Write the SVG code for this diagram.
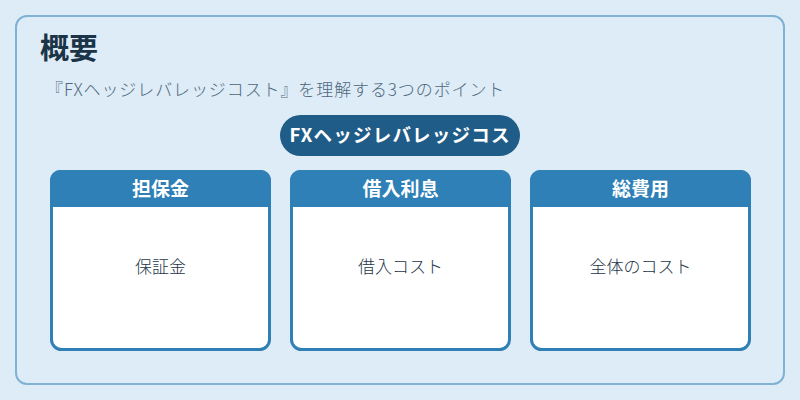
<svg xmlns="http://www.w3.org/2000/svg" width="800" height="400" viewBox="0 0 800 400">
<style>
text{font-family:"Noto Sans CJK JP","Noto Sans",sans-serif}
.card{fill:#ffffff;stroke:#2e80b6;stroke-width:3}
.hdr{fill:#2e80b6}
.htxt{fill:#ffffff;font-size:19px;font-weight:bold;text-anchor:middle}
.btxt{fill:#1b3447;font-size:17px;font-weight:300;text-anchor:middle}
</style>
<rect x="0" y="0" width="800" height="400" fill="#ddecf7"/>
<rect x="16" y="16" width="768" height="368" rx="11" fill="#ddecf7" stroke="#7fb2d4" stroke-width="2"/>
<text x="40" y="59" font-size="29" font-weight="bold" fill="#1b3447">概要</text>
<text x="46" y="96" font-size="17" font-weight="300" fill="#4f687c" letter-spacing="0.9">『FXヘッジレバレッジコスト』を理解する3つのポイント</text>
<g id="pill">
<rect x="280" y="115" width="240" height="41" rx="20.5" fill="#1f5c87"/>
<text x="400" y="142" font-size="18.5" font-weight="bold" fill="#ffffff" text-anchor="middle" letter-spacing="1.2">FXヘッジレバレッジコス</text>
</g>
<g id="connectors"></g>
<g id="node1">
<rect class="card" x="51.5" y="171.5" width="218" height="178" rx="10"/>
<path class="hdr" d="M50 207 V180 A10 10 0 0 1 60 170 H261 A10 10 0 0 1 271 180 V207 Z"/>
<text class="htxt" x="160.5" y="196">担保金</text>
<text class="btxt" x="160.5" y="273">保証金</text>
</g>
<g id="node2">
<rect class="card" x="291.5" y="171.5" width="218" height="178" rx="10"/>
<path class="hdr" d="M290 207 V180 A10 10 0 0 1 300 170 H501 A10 10 0 0 1 511 180 V207 Z"/>
<text class="htxt" x="400.5" y="196">借入利息</text>
<text class="btxt" x="400.5" y="273">借入コスト</text>
</g>
<g id="node3">
<rect class="card" x="531.5" y="171.5" width="218" height="178" rx="10"/>
<path class="hdr" d="M530 207 V180 A10 10 0 0 1 540 170 H741 A10 10 0 0 1 751 180 V207 Z"/>
<text class="htxt" x="640.5" y="196">総費用</text>
<text class="btxt" x="640.5" y="273">全体のコスト</text>
</g>
</svg>
